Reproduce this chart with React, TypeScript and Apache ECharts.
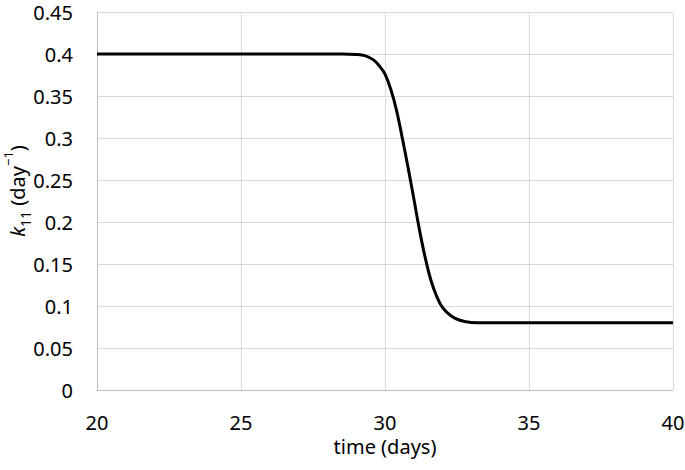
import React, { useEffect, useRef } from "react";
import * as echarts from "echarts";

const timeDays = [20, 28.5, 29, 29.3, 29.6, 29.8, 30, 30.2, 30.4, 30.6, 30.8, 31.0, 31.2, 31.4, 31.6, 31.8, 32.0, 32.3, 32.6, 33.0, 34, 40];
const k11Values = [0.4, 0.4, 0.3995, 0.398, 0.393, 0.386, 0.376, 0.358, 0.333, 0.3, 0.265, 0.228, 0.19, 0.157, 0.13, 0.111, 0.098, 0.088, 0.083, 0.0805, 0.08, 0.08];
const xTicks = { min: 20, max: 40, interval: 5 };
const yTicks = { min: 0, max: 0.45, interval: 0.05 };
const xTitle = "time (days)";
const yTitle = "{k|k}{sub|11}{n| (day}{sup|−1}{n|)}";

const FONT = "Noto Sans";
const FS = 20;

export default function App() {
  const ref = useRef<HTMLDivElement>(null);
  useEffect(() => {
    if (!ref.current) return;
    const chart = echarts.init(ref.current, null, { renderer: "svg" });
    const data = timeDays.map((t, i) => [t, k11Values[i]]);
    chart.setOption({
      animation: false,
      backgroundColor: "#ffffff",
      grid: { left: 97, right: 12, top: 12, bottom: 80, containLabel: false, outerBoundsMode: "none" },
      graphic: [
        {
          type: "text",
          x: 14,
          y: 191,
          rotation: Math.PI / 2,
          style: {
            text: yTitle,
            align: "center",
            verticalAlign: "middle",
            fontFamily: FONT,
            fontSize: FS,
            fill: "#000",
            rich: {
              k: { fontFamily: FONT, fontSize: FS, fontStyle: "italic", fill: "#000", lineHeight: 26, verticalAlign: "bottom" },
              sub: { fontFamily: FONT, fontSize: 14, fill: "#000", lineHeight: 26, verticalAlign: "bottom", padding: [0, 0, -5, 0] },
              n: { fontFamily: FONT, fontSize: FS, fill: "#000", lineHeight: 26, verticalAlign: "bottom" },
              sup: { fontFamily: FONT, fontSize: 13, fill: "#000", lineHeight: 26, verticalAlign: "top" },
            },
          },
        },
      ],
      xAxis: {
        type: "value",
        min: xTicks.min,
        max: xTicks.max,
        interval: xTicks.interval,
        name: xTitle,
        nameLocation: "middle",
        nameGap: 42,
        nameTextStyle: { fontFamily: FONT, fontSize: FS, color: "#000" },
        axisLine: { show: true, lineStyle: { color: "#bfbfbf", width: 1 } },
        axisTick: { show: false },
        axisLabel: { fontFamily: FONT, fontSize: FS, color: "#000", margin: 22 },
        splitLine: { show: true, lineStyle: { color: "#d9d9d9", width: 1 } },
      },
      yAxis: {
        type: "value",
        min: yTicks.min,
        max: yTicks.max,
        interval: yTicks.interval,
        axisLine: { show: true, lineStyle: { color: "#bfbfbf", width: 1 } },
        axisTick: { show: false },
        axisLabel: { fontFamily: FONT, fontSize: FS, color: "#000", margin: 24 },
        splitLine: { show: true, lineStyle: { color: "#d9d9d9", width: 1 } },
      },
      series: [
        {
          type: "line",
          data,
          smooth: 0.4,
          showSymbol: false,
          symbol: "none",
          lineStyle: { color: "#000000", width: 3 },
        },
      ],
    });
    return () => chart.dispose();
  }, []);
  return <div ref={ref} style={{ width: 685, height: 470, position: "absolute", left: 0, top: 0 }} />;
}
